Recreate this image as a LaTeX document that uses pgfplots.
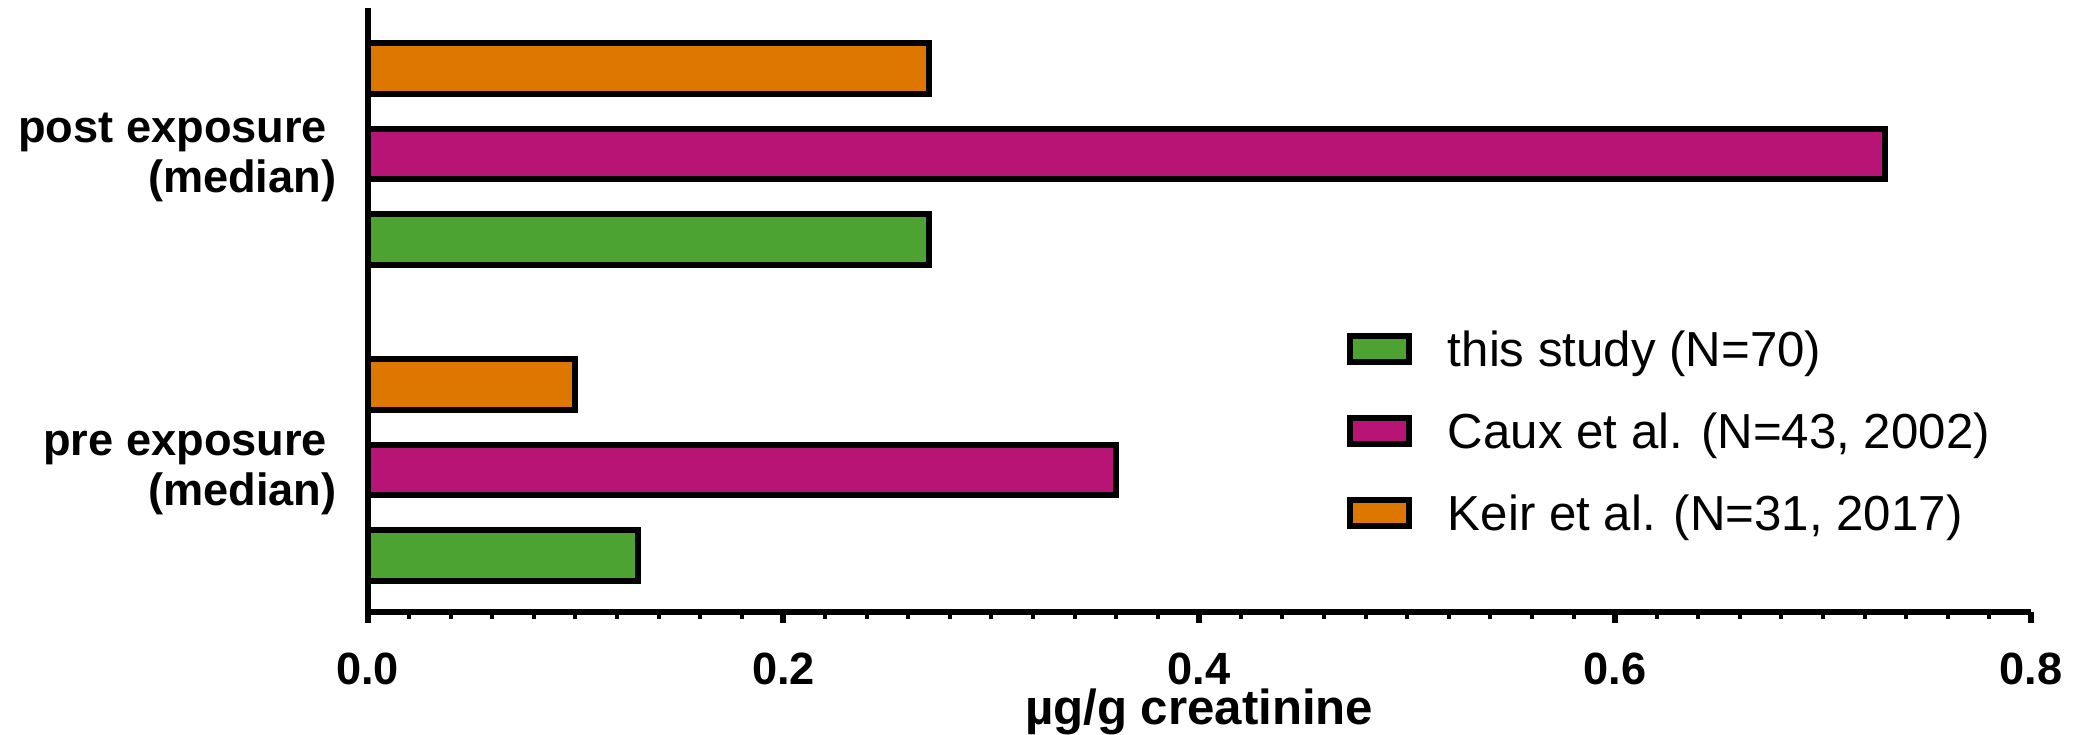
\documentclass[border=0pt]{standalone}
\usepackage{fontspec}
\setmainfont{Liberation Sans}
\usepackage{pgfplots}
\pgfplotsset{compat=1.18}
\definecolor{studygreen}{RGB}{76,163,50}
\definecolor{cauxmagenta}{RGB}{184,20,117}
\definecolor{keirorange}{RGB}{222,119,0}
\begin{document}
\begin{tikzpicture}
\useasboundingbox (-91.9pt,-30.75pt) rectangle (428.15pt,153pt);
\begin{axis}[
  at={(0pt,0pt)}, anchor=south west,
  width=415.9pt, height=151pt, scale only axis,
  clip=false,
  xmin=0, xmax=0.8, ymin=-0.449, ymax=1.462,
  axis lines=left,
  axis line style={-, line width=1.5pt, black},
  xtick={0,0.2,0.4,0.6,0.8},
  minor x tick num=9,
  tick align=outside,
  major tick length=2.7pt,
  minor tick length=1.8pt,
  major tick style={line width=1.5pt, black},
  minor tick style={line width=1pt, black},
  ytick={0,1},
  yticklabels={{pre exposure\hspace*{2.3pt}\\(median)},{post exposure\hspace*{2.3pt}\\(median)}},
  ytick style={draw=none},
  xticklabel style={font=\fontsize{11.3}{13}\selectfont\bfseries, anchor=base, inner sep=0pt, yshift=-15.5pt},
  yticklabel style={font=\fontsize{11.3}{12.6}\selectfont\bfseries, align=right, anchor=east, inner sep=0pt, xshift=-4.9pt, yshift=-0.8pt},
  /pgf/number format/.cd, fixed, fixed zerofill, precision=1, assume math mode=true,
  /pgfplots/.cd,
  xlabel={µg/g creatinine},
  xlabel style={at={(axis description cs:0.5,0)}, anchor=base, inner sep=0pt, yshift=-28.25pt, font=\fontsize{12.3}{14}\selectfont\bfseries},
  legend cell align=left,
  legend style={at={(0.5888,0.4646)}, anchor=north west, draw=none, fill=none,
    inner sep=0pt, outer sep=0pt, row sep=11.7pt, column sep=9pt,
    font=\fontsize{12.3}{14}\selectfont,
    nodes={inner sep=0pt, text height=8.8pt, text depth=0pt}},
  legend image code/.code={\draw[#1,/tikz/.cd,line width=1.5pt] (0pt,-3.25pt) rectangle (14.75pt,3.25pt);},
]
% medians in µg/g creatinine; y = 0 pre exposure, y = 1 post exposure
\addplot[xbar, bar width=0.161, bar shift=-0.2706, fill=studygreen, draw=black, line width=1.5pt]
  coordinates {(0.13,0) (0.27,1)};
\addlegendentry{this study (N=70)}
\addplot[xbar, bar width=0.161, bar shift=0, fill=cauxmagenta, draw=black, line width=1.5pt]
  coordinates {(0.36,0) (0.73,1)};
\addlegendentry{Caux et al. (N=43, 2002)}
\addplot[xbar, bar width=0.161, bar shift=0.2706, fill=keirorange, draw=black, line width=1.5pt]
  coordinates {(0.10,0) (0.27,1)};
\addlegendentry{Keir et al. (N=31, 2017)}
\end{axis}
\end{tikzpicture}
\end{document}
